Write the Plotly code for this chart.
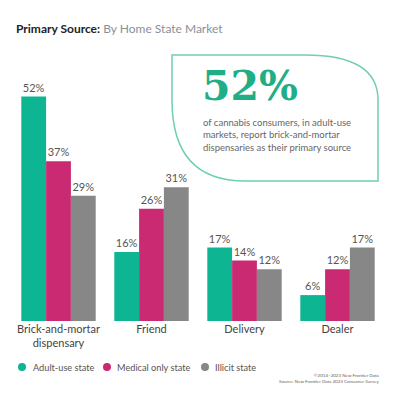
import plotly.graph_objects as go

categories = ["Brick-and-mortar<br>dispensary", "Friend", "Delivery", "Dealer"]
series_names = ["Adult-use state", "Medical only state", "Illicit state"]
adult_use = [52, 16, 17, 6]
medical_only = [37, 26, 14, 12]
illicit = [29, 31, 12, 17]
colors = ["#0db592", "#c92a72", "#878787"]

W, H = 400, 400
ML, MR, MT, MB = 12, 16, 62, 79
PW, PH = W - ML - MR, H - MT - MB

fig = go.Figure()
for name, vals, col in zip(series_names, [adult_use, medical_only, illicit], colors):
    fig.add_trace(go.Bar(
        x=categories, y=vals, name=name, marker=dict(color=col, line=dict(width=0)),
        text=[f"{v}%" for v in vals], textposition="outside", cliponaxis=False,
        textfont=dict(family="Lato", size=11, color="#555"),
        showlegend=False,
    ))

def px2paper(px, py):
    return (px - ML) / PW, (H - MB - py) / PH

# leaf-shaped callout box (pixel coords converted to paper)
pts = {
    "tl": (172, 55), "tr0": (305, 55), "trc": (378, 55), "tr1": (378, 100),
    "br": (378, 181), "bl0": (245, 181), "blc": (172, 181), "bl1": (172, 100),
}
def P(k):
    x, y = px2paper(*pts[k])
    return f"{x:.4f},{y:.4f}"
path = (f"M {P('tl')} L {P('tr0')} Q {P('trc')} {P('tr1')} L {P('br')} "
        f"L {P('bl0')} Q {P('blc')} {P('bl1')} Z")
fig.add_shape(type="path", xref="paper", yref="paper", path=path,
              line=dict(color="#6fcfb0", width=1.5), fillcolor="rgba(0,0,0,0)", layer="below")

fig.add_annotation(xref="paper", yref="paper", x=px2paper(200, 0)[0], y=px2paper(0, 86)[1],
                   text="<b>52%</b>", showarrow=False, xanchor="left", yanchor="middle",
                   font=dict(family="DejaVu Serif", size=41, color="#1fae86"))
fig.add_annotation(xref="paper", yref="paper", x=px2paper(201, 0)[0], y=px2paper(0, 115)[1],
                   text="of cannabis consumers, in adult-use<br>markets, report brick-and-mortar<br>dispensaries as their primary source",
                   showarrow=False, xanchor="left", yanchor="top", align="left",
                   font=dict(family="Lato", size=9.5, color="#666"))

fig.add_annotation(xref="paper", yref="paper", x=px2paper(381, 0)[0], y=px2paper(0, 371)[1],
                   text="©2014–2023 New Frontier Data<br>Source: New Frontier Data 2023 Consumer Survey",
                   showarrow=False, xanchor="right", yanchor="top", align="right",
                   font=dict(family="Lato", size=4.5, color="#666"))

# manual legend
legend_pos = [(22, 31), (107, 115), (205, 213)]
for name, col, (cx, tx) in zip(series_names, colors, legend_pos):
    x0, y0 = px2paper(cx - 4, 363)
    x1, y1 = px2paper(cx + 4, 371)
    fig.add_shape(type="circle", xref="paper", yref="paper", x0=x0, y0=y1, x1=x1, y1=y0,
                  fillcolor=col, line=dict(width=0))
    fig.add_annotation(xref="paper", yref="paper", x=px2paper(tx, 0)[0], y=px2paper(0, 367)[1],
                       text=name, showarrow=False, xanchor="left", yanchor="middle",
                       font=dict(family="Lato", size=9.2, color="#555"))

fig.update_layout(
    width=W, height=H,
    margin=dict(l=ML, r=MR, t=MT, b=MB),
    paper_bgcolor="white", plot_bgcolor="white",
    barmode="group", bargap=0.2, bargroupgap=0,
    showlegend=False,
    title=dict(text="<b>Primary Source:</b> <span style='color:#8a9099'>By Home State Market</span>",
               x=16 / W, xanchor="left", y=1 - 29 / H, yanchor="middle",
               font=dict(family="Lato", size=12, color="#222")),
    xaxis=dict(showline=False, ticks="", showgrid=False,
               tickfont=dict(family="Lato", size=11, color="#444")),
    yaxis=dict(range=[0, 60], visible=False, showgrid=False),
)

fig.write_html("out.html")
